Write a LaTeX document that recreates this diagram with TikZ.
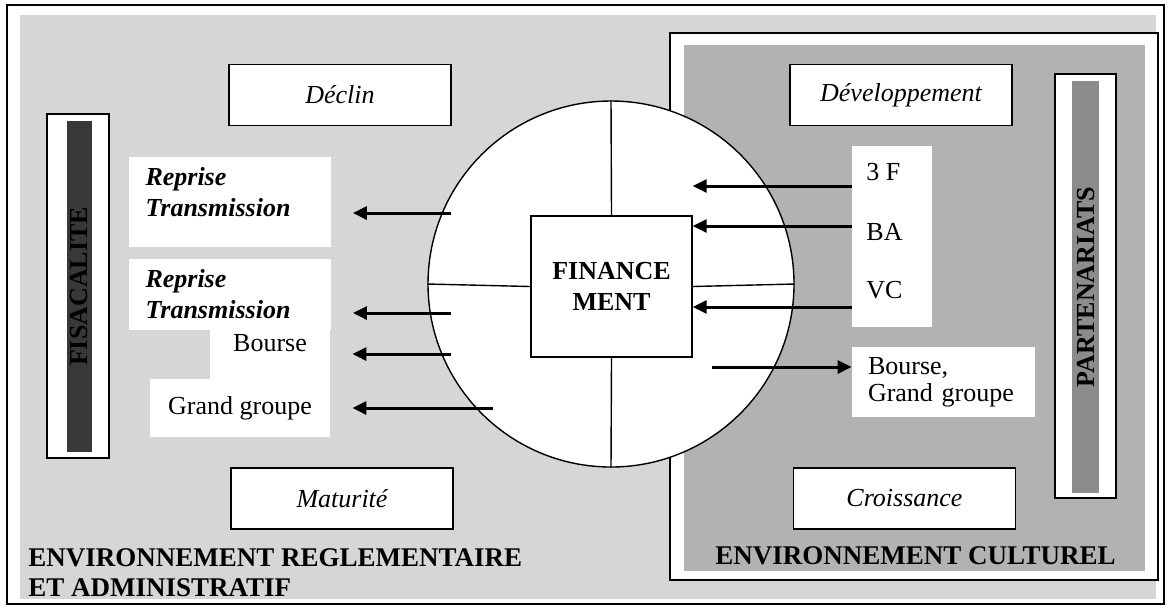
\documentclass[tikz,border=0pt]{standalone}
\usepackage{fontspec}
\setmainfont{Liberation Serif}
\usetikzlibrary{arrows.meta}
\usetikzlibrary{positioning}
\usetikzlibrary{calc}

\definecolor{fondclair}{gray}{0.84}
\definecolor{fondfonce}{gray}{0.70}
\definecolor{barrefonce}{gray}{0.22}
\definecolor{barremoyen}{gray}{0.55}
\newcommand{\taille}{\fontsize{13}{15.5}\selectfont}
\newcommand{\titre}{\fontsize{13.5}{15}\selectfont\bfseries}

\tikzset{
  phase/.style={draw, fill=white, line width=0.7pt, minimum width=111pt,
                minimum height=30.5pt, font=\taille\itshape},
  blanc/.style={fill=white, inner ysep=0pt},
  cadre/.style={draw, fill=white, line width=0.6pt, inner sep=0pt},
  barre/.style={rotate=90, inner sep=0pt, font=\taille\bfseries},
  fleche/.style={->, line width=1.5pt},
}

\begin{document}
\begin{tikzpicture}[x=0.5pt, y=-0.5pt, >={Triangle[length=7pt, width=6.5pt]}]
    \useasboundingbox (0,0) rectangle (1170,607);

    % fonds
    \draw[line width=0.6pt, fill=white] (7,5) rectangle (1164,604);
    \fill[fondclair] (20,15) rectangle (1156,599);
    \draw[line width=0.7pt, fill=white] (670,33) rectangle (1158,580);
    \fill[fondfonce] (684,45) rectangle (1145,571);

    % barres verticales
    \node[cadre, minimum width=31pt, minimum height=172pt] (fiscB) at (78,286) {};
    \node[barre, fill=barrefonce, minimum width=165.5pt, minimum height=12.5pt] (fisc) at (79.5,286.5) {FISACALITE};
    \node[cadre, minimum width=30.5pt, minimum height=212pt] (partB) at (1085.5,286) {};
    \node[barre, fill=barremoyen, minimum width=206pt, minimum height=13.5pt] (part) at (1085.5,287) {PARTENARIATS};

    % phases
    \begin{scope}[every node/.style={phase}]
        \node (declin) at (340,95) {Déclin};
        \node (dev) at (901,95) {Développement};
        \node (mat) at (342,498.5) {Maturité};
        \node (crois) at (904.5,498.5) {Croissance};
    \end{scope}

    % sorties a gauche
    \node[blanc, minimum width=100.5pt, text height=14pt, text depth=31pt, text width=84pt, inner xsep=8.5pt,
          align=left, font=\taille\bfseries\itshape] (repA) at (229.5,202) {Reprise\\Transmission};
    \node[blanc, minimum width=100.5pt, minimum height=35.5pt, text width=84pt, inner xsep=8.5pt,
          align=left, font=\taille\bfseries\itshape] (repB) at (229.5,294) {Reprise\\Transmission};
    \node[blanc, minimum width=60pt, text height=11.8pt, text depth=13.7pt, font=\taille] (bourseL) at (270,353.5) {Bourse};
    \node[blanc, minimum width=90pt, minimum height=29pt, font=\taille] (grandL) at (240,408) {Grand groupe};

    % entrees a droite
    \node[blanc, minimum width=40pt, minimum height=90.5pt] (col) at (892,236.5) {};
    \begin{scope}[every node/.style={anchor=west, inner sep=0pt, font=\taille}]
        \node (f3) at (866,172) {3 F};
        \node (ba) at (866,232) {BA};
        \node (vc) at (866,290) {VC};
    \end{scope}
    \node[blanc, minimum width=91.5pt, minimum height=35pt, text width=75.5pt, inner xsep=8pt,
          align=left, font=\taille] (bgR) at (943.5,382) {Bourse,\\[-2pt]Grand groupe};

    % roue du financement
    \node[circle, draw, fill=white, line width=0.7pt, minimum size=183pt, inner sep=0pt] (roue) at (611,284) {};
    \node[draw, fill=white, line width=0.7pt, minimum width=80.5pt, minimum height=70.5pt,
          align=center, font=\taille\bfseries] (fin) at (611.5,286.5) {FINANCE\\MENT};
    \draw[line width=0.7pt] (roue.north) -- (fin.north);
    \draw[line width=0.7pt] (fin.south) -- (roue.south);
    \draw[line width=0.7pt] (roue.west) -- (fin.west);
    \draw[line width=0.7pt] (fin.east) -- (roue.east);

    % fleches
    \foreach \x/\y/\n in {451/213/repA, 451/313/repB, 451/354/bourseL, 493/408/grandL}
    {
        \coordinate (t) at (\x,\y);
        \draw[fleche, shorten >=11pt] (t) -- (t -| \n.east);
    }
    \foreach \y in {186,226,307}
    {
        \coordinate (t) at (0,\y);
        \draw[fleche] (col.west |- t) -- (fin.east |- t);
    }
    \coordinate (c1) at (712,367);
    \draw[fleche] (c1) -- (c1 -| bgR.west);

    % environnements
    \node[anchor=north west, inner sep=0pt, align=left, font=\titre] (envR) at (28,548)
        {ENVIRONNEMENT REGLEMENTAIRE\\ET ADMINISTRATIF};
    \node[inner sep=0pt, font=\titre] (envC) at (915.5,556) {ENVIRONNEMENT CULTUREL};
\end{tikzpicture}
\end{document}
